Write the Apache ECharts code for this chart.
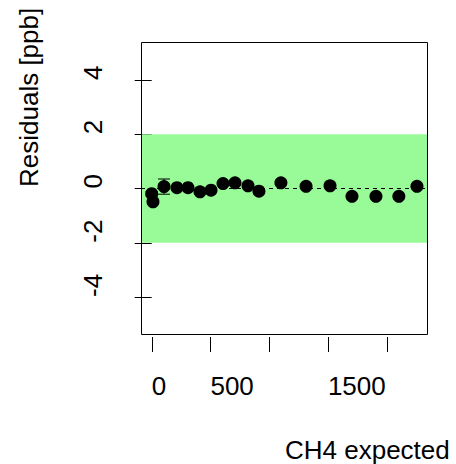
<!DOCTYPE html>
<html>
<head>
<meta charset="utf-8">
<script src="https://cdn.jsdelivr.net/npm/echarts@6/dist/echarts.min.js"></script>
<style>html,body{margin:0;padding:0;background:#fff}#c{width:456px;height:464px}</style>
</head>
<body>
<div id="c"></div>
<script>
var xVals = [0, 11, 105, 215, 309, 411, 505, 607, 709, 820, 913, 1100, 1314, 1518, 1705, 1909, 2104, 2258];
var yVals = [-0.19, -0.49, 0.07, 0.03, 0.03, -0.12, -0.06, 0.18, 0.21, 0.10, -0.10, 0.21, 0.08, 0.10, -0.29, -0.29, -0.29, 0.08];
var errVals = [0.08, 0.08, 0.28, 0.06, 0.06, 0.06, 0.06, 0.06, 0.06, 0.06, 0.06, 0.06, 0.06, 0.06, 0.06, 0.06, 0.06, 0.06];
var xTicks = [0, 500, 1000, 1500, 2000];
var xTickLabels = [0, 500, 1500];
var yTicks = [-4, -2, 0, 2, 4];
var bandLow = -2, bandHigh = 2;
var xTitle = 'CH4 expected';
var yTitle = 'Residuals [ppb]';

var Y_MIN = -5.4, Y_MAX = 5.4;
var FONT = 'Liberation Sans, Arial, sans-serif';
var pts = xVals.map(function (x, i) { return [x, yVals[i]]; });
var errData = xVals.map(function (x, i) { return [x, yVals[i], errVals[i]]; });
var tickData = xTicks.map(function (v) { return [v, Y_MIN]; });
var plain = function (v) { return String(v); };

var chart = echarts.init(document.getElementById('c'), null, {renderer: 'svg'});
chart.setOption({
  animation: false,
  backgroundColor: '#fff',
  grid: {left: 141, top: 42, right: 28, bottom: 129, outerBoundsMode: 'none', containLabel: false},
  xAxis: {
    type: 'value', min: -91, max: 2352, offset: 2,
    axisLine: {show: false},
    splitLine: {show: false},
    axisTick: {show: false},
    axisLabel: {customValues: xTickLabels, formatter: plain, align: 'left', margin: 36, fontSize: 26, fontFamily: FONT, color: '#000'}
  },
  yAxis: {
    type: 'value', min: Y_MIN, max: Y_MAX,
    axisLine: {show: false},
    splitLine: {show: false},
    axisTick: {show: true, length: 17, customValues: yTicks, lineStyle: {color: '#000', width: 1}},
    axisLabel: {customValues: yTicks, formatter: plain, rotate: 90, align: 'left', verticalAlign: 'bottom', margin: 35, fontSize: 26, fontFamily: FONT, color: '#000'}
  },
  graphic: [
    {type: 'rect', z: 100, shape: {x: 141.5, y: 42.5, width: 286, height: 292}, style: {fill: 'none', stroke: '#000', lineWidth: 1}},
    {type: 'text', x: 285, y: 449.6, style: {text: xTitle, fontSize: 26, fontFamily: FONT, fill: '#000', align: 'left', verticalAlign: 'middle'}},
    {type: 'text', x: 29.3, y: 187, rotation: Math.PI / 2, style: {text: yTitle, fontSize: 26, fontFamily: FONT, fill: '#000', align: 'left', verticalAlign: 'middle'}}
  ],
  series: [
    {
      type: 'scatter', data: [], z: 1, silent: true,
      markArea: {silent: true, itemStyle: {color: '#98FB98', opacity: 1}, data: [[{yAxis: bandLow}, {yAxis: bandHigh}]]}
    },
    {
      type: 'custom', z: 2, silent: true,
      data: errData,
      renderItem: function (params, api) {
        var x = api.value(0), y = api.value(1), e = api.value(2);
        var top = api.coord([x, y + e]);
        var bot = api.coord([x, y - e]);
        var hw = 6;
        var ls = {stroke: '#000', lineWidth: 1};
        return {type: 'group', children: [
          {type: 'line', shape: {x1: top[0], y1: top[1], x2: bot[0], y2: bot[1]}, style: ls},
          {type: 'line', shape: {x1: top[0] - hw, y1: top[1], x2: top[0] + hw, y2: top[1]}, style: ls},
          {type: 'line', shape: {x1: bot[0] - hw, y1: bot[1], x2: bot[0] + hw, y2: bot[1]}, style: ls}
        ]};
      },
      markLine: {silent: true, symbol: 'none', label: {show: false}, lineStyle: {color: '#000', width: 1, type: [4, 4]}, data: [{yAxis: 0}]}
    },
    {
      type: 'scatter', z: 3, silent: true,
      data: pts, symbol: 'circle', symbolSize: 13,
      itemStyle: {color: '#000', opacity: 1}
    },
    {
      type: 'custom', z: 4, silent: true, clip: false,
      data: tickData,
      renderItem: function (params, api) {
        var p = api.coord([api.value(0), api.value(1)]);
        var x = Math.round(p[0]) + 0.5;
        return {type: 'line', shape: {x1: x, y1: p[1] + 2, x2: x, y2: p[1] + 17}, style: {stroke: '#000', lineWidth: 1}};
      }
    }
  ]
});
</script>
</body>
</html>
